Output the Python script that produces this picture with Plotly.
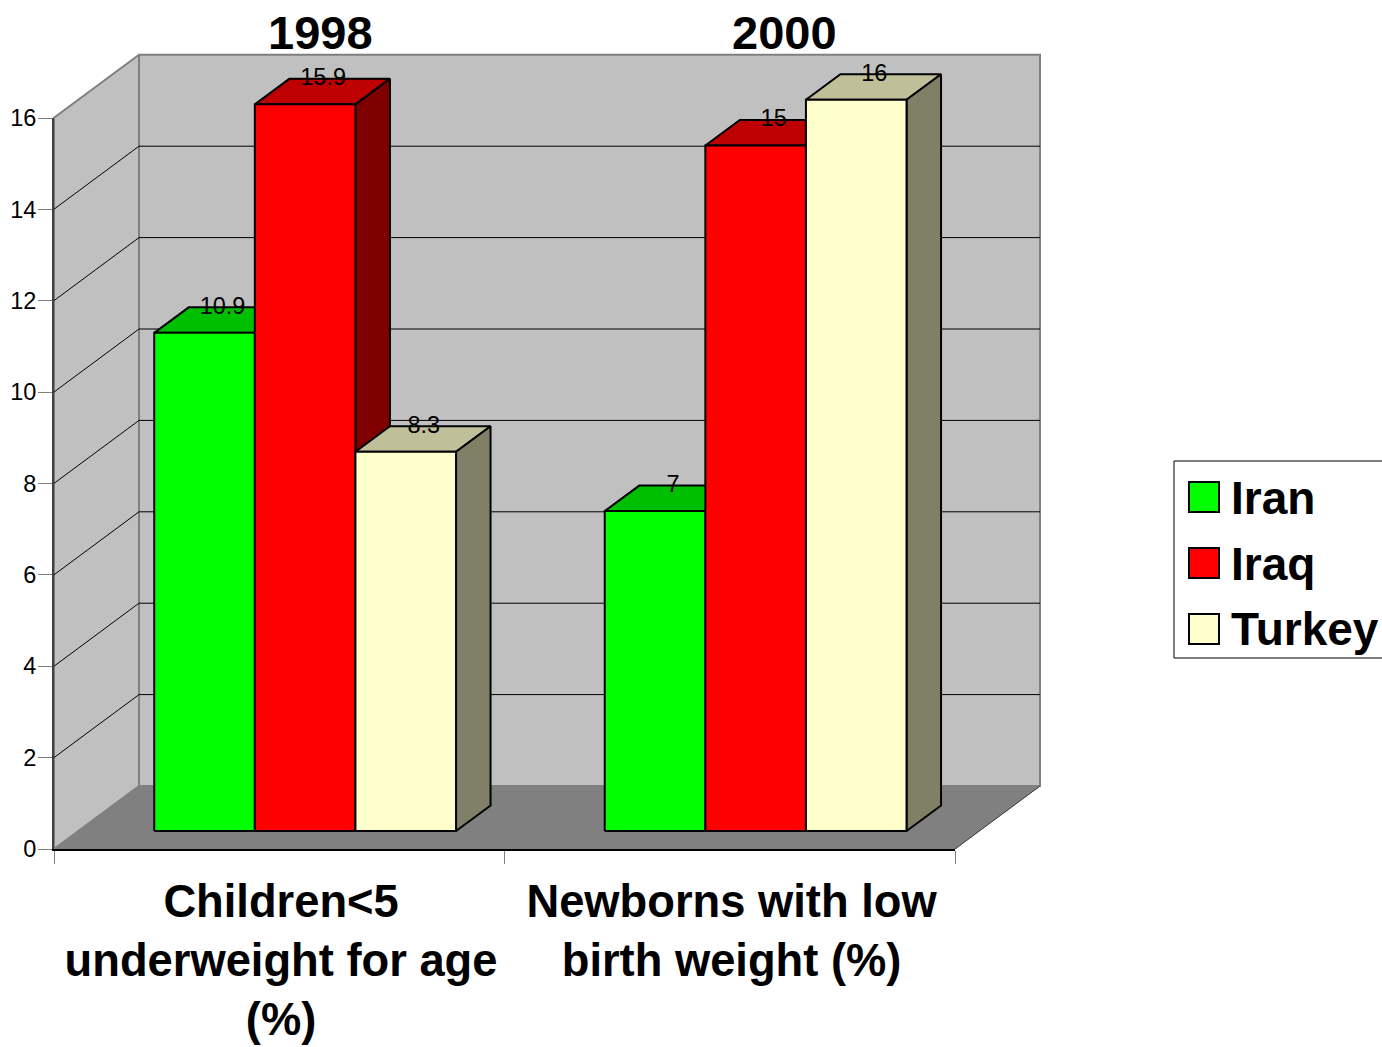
import plotly.graph_objects as go

# ── Data ──────────────────────────────────────────────────────────────────────
categories = ['Children&lt;5<br>underweight for age<br>(%)', 'Newborns with low<br>birth weight (%)']
years = ['1998', '2000']
series_names = ['Iran', 'Iraq', 'Turkey']
iran = [10.9, 7]
iraq = [15.9, 15]
turkey = [8.3, 16]
y_ticks = [0, 2, 4, 6, 8, 10, 12, 14, 16]

FRONT = ['#00FF00', '#FF0000', '#FFFFCC']
TOP = ['#00BF00', '#BF0000', '#BFBF99']
SIDE = ['#008000', '#800000', '#808066']
FONT = 'Liberation Sans'

# ── Plot frame: one x unit = 450.5px, one y unit = 45.7px ─────────────────────
W, H = 1382, 1047
PX_X = 450.5
PX_Y = 45.7
WALL_DX = 85 / PX_X
WALL_DY = 63 / PX_Y
BAR_DX = 34.5 / PX_X
BAR_DY = 25.5 / PX_Y
BAR_W = 100.6 / PX_X
BAR_X0 = 0.2225
BAR_BASE = 18 / PX_Y


def lx(px):
    return (px - 54) / PX_X


def ly(py):
    return (849 - py) / PX_Y


def poly(fig, xs, ys, fill, line='black', width=2):
    fig.add_trace(go.Scatter(
        x=xs, y=ys, mode='lines', fill='toself', fillcolor=fill,
        line=dict(color=line, width=width), hoverinfo='skip', showlegend=False,
    ))


def seg(fig, xs, ys, color='black', width=1):
    fig.add_trace(go.Scatter(
        x=xs, y=ys, mode='lines', line=dict(color=color, width=width),
        hoverinfo='skip', showlegend=False,
    ))


fig = go.Figure()

# walls and floor
top = y_ticks[-1]
poly(fig, [0, WALL_DX, WALL_DX, 0, 0], [0, WALL_DY, top + WALL_DY, top, 0], '#C0C0C0', '#808080', 2)
poly(fig, [WALL_DX, 2 + WALL_DX, 2 + WALL_DX, WALL_DX, WALL_DX],
     [WALL_DY, WALL_DY, top + WALL_DY, top + WALL_DY, WALL_DY], '#C0C0C0', '#808080', 2)
poly(fig, [0, 2, 2 + WALL_DX, WALL_DX, 0], [0, 0, WALL_DY, WALL_DY, 0], '#808080', '#808080', 1)
seg(fig, [2, 2 + WALL_DX], [0, WALL_DY], '#404040', 1)

for t in y_ticks[1:-1]:
    seg(fig, [0, WALL_DX, 2 + WALL_DX], [t, t + WALL_DY, t + WALL_DY])

# bars, left to right so that nearer faces overlap
all_series = [iran, iraq, turkey]
labels = dict(x=[], y=[], text=[])
for c in range(len(categories)):
    for s, values in enumerate(all_series):
        v = BAR_BASE + values[c]
        x0 = c + BAR_X0 + s * BAR_W
        x1 = x0 + BAR_W
        poly(fig, [x0, x0 + BAR_DX, x1 + BAR_DX, x1, x0], [v, v + BAR_DY, v + BAR_DY, v, v], TOP[s])
        poly(fig, [x1, x1 + BAR_DX, x1 + BAR_DX, x1, x1],
             [BAR_BASE, BAR_BASE + BAR_DY, v + BAR_DY, v, BAR_BASE], SIDE[s])
        poly(fig, [x0, x1, x1, x0, x0], [BAR_BASE, BAR_BASE, v, v, BAR_BASE], FRONT[s])
        labels['x'].append((x0 + x1) / 2 + 18 / PX_X)
        labels['y'].append(v + 25 / PX_Y)
        labels['text'].append(str(values[c]))

fig.add_trace(go.Scatter(
    x=labels['x'], y=labels['y'], text=labels['text'], mode='text',
    textposition='middle center', textfont=dict(family=FONT, size=23.5, color='black'),
    hoverinfo='skip', showlegend=False,
))

# empty trace so the real axes get drawn, on top of the walls
fig.add_trace(go.Scatter(
    x=[0, 2], y=[0, 16], mode='none', xaxis='x2', yaxis='y2',
    hoverinfo='skip', showlegend=False,
))

# year headings
for year, px in zip(years, [320, 784]):
    fig.add_annotation(
        x=lx(px), y=ly(32), text=f'<b>{year}</b>', showarrow=False,
        font=dict(family=FONT, size=47, color='black'), xanchor='center', yanchor='middle',
    )

# legend, placed in page pixels
fig.add_shape(type='rect', x0=lx(1174), x1=lx(1383), y0=ly(461), y1=ly(658),
              line=dict(color='black', width=1), fillcolor='white')
for name, color, py0, pytext in zip(series_names, FRONT, [482, 548, 614], [498, 564, 629]):
    fig.add_shape(type='rect', x0=lx(1189), x1=lx(1219), y0=ly(py0), y1=ly(py0 + 30),
                  line=dict(color='black', width=2), fillcolor=color)
    fig.add_annotation(
        x=lx(1229), y=ly(pytext), text=f'<b>{name}</b>', showarrow=False,
        font=dict(family=FONT, size=46, color='black'), xanchor='left', yanchor='middle',
    )

fig.update_layout(
    width=W, height=H,
    margin=dict(l=0, r=0, t=0, b=0, autoexpand=False),
    paper_bgcolor='white', plot_bgcolor='rgba(0,0,0,0)',
    showlegend=False,
    # full-page axes for the 3D faces, same scale as the real axes below
    xaxis=dict(domain=[0, 1], range=[lx(0), lx(W)], visible=False),
    yaxis=dict(domain=[0, 1], range=[ly(H), ly(0)], visible=False),
    xaxis2=dict(
        domain=[54 / W, 955 / W], anchor='y2',
        range=[0, 2], tickvals=[0.504, 1.504], ticktext=[f'<b>{c}</b>' for c in categories],
        ticks='', ticklabelstandoff=12, tickfont=dict(family=FONT, size=45.3, color='black'), tickangle=0,
        showgrid=False, zeroline=False, showline=True, linecolor='black', linewidth=2,
        minor=dict(tickvals=[0, 1, 2], ticks='outside', ticklen=13, tickcolor='#808080', tickwidth=1),
    ),
    yaxis2=dict(
        domain=[(H - 849) / H, (H - 118) / H], anchor='x2',
        range=[0, 16], tickvals=y_ticks, ticks='outside', ticklen=14, tickcolor='#808080',
        tickwidth=1, ticklabelstandoff=-3,
        tickfont=dict(family=FONT, size=23.5, color='black'),
        showgrid=False, zeroline=False, showline=True, linecolor='#404040', linewidth=2,
    ),
)

# drop the browser's default 8px body margin so the figure fills the window
fig.write_html("out.html", config={'displayModeBar': False},
               post_script="document.body.style.margin = '0';")
